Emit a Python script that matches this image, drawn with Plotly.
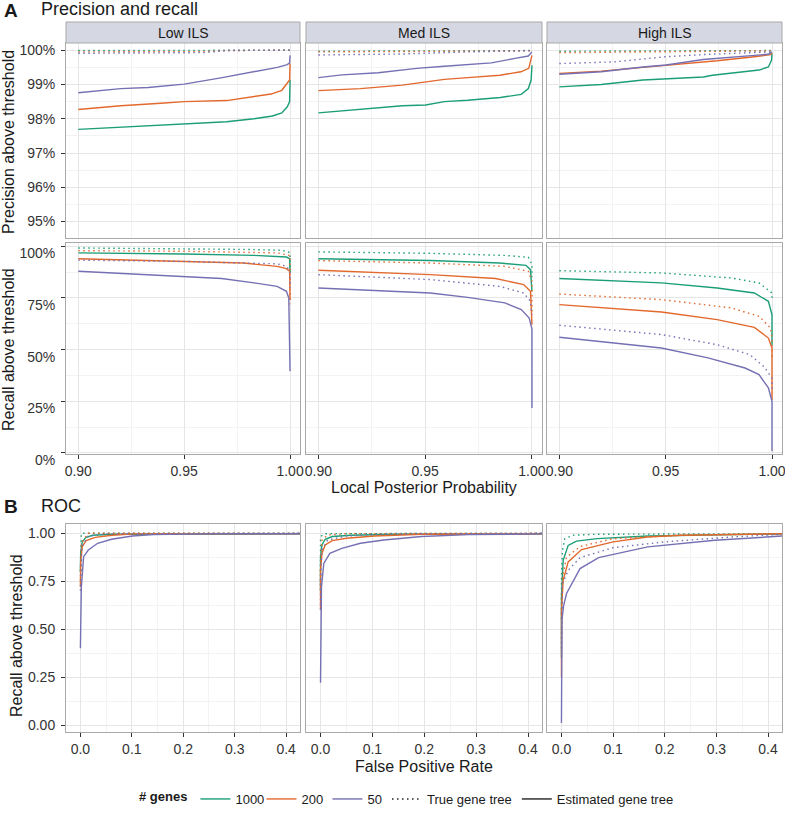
import plotly.graph_objects as go

# ---- data (x, y) ----
GENES = ["1000", "200", "50"]
ILS = ["Low ILS", "Med ILS", "High ILS"]

# precision above threshold (%) vs local posterior probability
prec_low_1000_true = [(0.900, 99.99), (0.950, 100.0), (1.0, 100.0)]
prec_low_200_true = [(0.900, 99.95), (0.960, 99.96), (0.970, 99.99), (1.0, 100.0)]
prec_low_50_true = [(0.900, 99.91), (0.960, 99.93), (0.970, 99.99), (1.0, 100.0)]
prec_low_1000_est = [(0.900, 97.69), (0.924, 97.77), (0.950, 97.84), (0.970, 97.91), (0.983, 98.00),
                     (0.9917, 98.08), (0.9961, 98.17), (0.9987, 98.35), (0.9998, 98.50), (1.0, 99.13)]
prec_low_200_est = [(0.900, 98.27), (0.920, 98.38), (0.939, 98.45), (0.950, 98.50), (0.970, 98.53),
                    (0.981, 98.62), (0.991, 98.72), (0.9961, 98.83), (0.9987, 99.03), (0.9998, 99.13),
                    (1.0, 99.61)]
prec_low_50_est = [(0.900, 98.76), (0.920, 98.88), (0.933, 98.91), (0.950, 99.01), (0.968, 99.20),
                   (0.983, 99.37), (0.994, 99.50), (0.9987, 99.58), (0.9998, 99.63), (1.0, 99.85)]

prec_med_1000_true = [(0.900, 99.97), (1.0, 99.99)]
prec_med_200_true = [(0.900, 99.95), (1.0, 99.98)]
prec_med_50_true = [(0.900, 99.86), (0.940, 99.89), (0.970, 99.95), (1.0, 99.99)]
prec_med_1000_est = [(0.900, 98.17), (0.9197, 98.27), (0.9393, 98.38), (0.9502, 98.40), (0.959, 98.50),
                     (0.9699, 98.54), (0.9852, 98.62), (0.995, 98.71), (0.9983, 98.88), (0.9996, 99.13),
                     (1.0, 99.56)]
prec_med_200_est = [(0.900, 98.82), (0.9197, 98.88), (0.9393, 98.98), (0.959, 99.15), (0.970, 99.20),
                    (0.985, 99.27), (0.9948, 99.37), (0.9985, 99.47), (1.0, 99.85)]
prec_med_50_est = [(0.900, 99.20), (0.911, 99.28), (0.928, 99.34), (0.946, 99.47), (0.959, 99.53),
                   (0.968, 99.57), (0.981, 99.63), (0.992, 99.76), (0.9983, 99.83), (1.0, 99.95)]

prec_high_1000_true = [(0.900, 99.97), (1.0, 99.99)]
prec_high_200_true = [(0.900, 99.93), (1.0, 99.98)]
prec_high_50_true = [(0.900, 99.61), (0.926, 99.66), (0.950, 99.81), (0.970, 99.88), (1.0, 99.95)]
prec_high_1000_est = [(0.900, 98.93), (0.9197, 99.00), (0.9393, 99.13), (0.9502, 99.17), (0.9677, 99.22),
                      (0.972, 99.27), (0.983, 99.35), (0.9939, 99.42), (0.9983, 99.51), (0.9998, 99.71),
                      (1.0, 99.90)]
prec_high_200_est = [(0.900, 99.32), (0.9197, 99.39), (0.9393, 99.50), (0.959, 99.61), (0.9742, 99.69),
                     (0.9917, 99.81), (0.9993, 99.87), (1.0, 99.92)]
prec_high_50_est = [(0.900, 99.30), (0.9197, 99.37), (0.9393, 99.51), (0.9502, 99.57), (0.9677, 99.73),
                    (0.983, 99.81), (0.9983, 99.88), (1.0, 99.95)]

# recall above threshold (%) vs local posterior probability
rec_low_1000_true = [(0.900, 99.2), (0.950, 98.9), (0.978, 98.5), (0.9961, 98.1), (1.0, 97.0), (1.0, 88.0)]
rec_low_200_true = [(0.900, 97.9), (0.950, 97.6), (0.994, 96.8), (1.0, 95.5), (1.0, 72.0)]
rec_low_50_true = [(0.900, 93.3), (0.950, 92.7), (0.9939, 91.5), (0.9983, 90.3), (1.0, 87.9), (1.0, 80.0)]
rec_low_1000_est = [(0.900, 96.8), (0.950, 96.3), (0.983, 95.6), (0.9983, 94.8), (0.9998, 94.0), (1.0, 87.5)]
rec_low_200_est = [(0.900, 94.0), (0.950, 92.7), (0.978, 91.9), (0.9939, 90.3), (0.9983, 89.2),
                   (0.9998, 87.9), (1.0, 74.0)]
rec_low_50_est = [(0.900, 87.9), (0.950, 85.5), (0.9677, 84.4), (0.983, 82.3), (0.9939, 80.6),
                  (0.9983, 78.2), (0.9994, 75.0), (1.0, 39.5)]

rec_med_1000_true = [(0.900, 97.3), (0.9524, 96.6), (0.9873, 95.6), (0.9983, 94.7), (1.0, 91.1), (1.0, 85.0)]
rec_med_200_true = [(0.900, 93.1), (0.9524, 91.9), (0.9873, 90.3), (0.9983, 87.9), (1.0, 83.1), (1.0, 68.5)]
rec_med_50_true = [(0.900, 86.3), (0.9524, 83.9), (0.985, 80.6), (0.9961, 77.4), (0.9993, 73.4), (1.0, 66.9)]
rec_med_1000_est = [(0.900, 94.0), (0.9524, 93.1), (0.985, 91.9), (0.9972, 90.8), (0.9993, 88.7), (1.0, 78.2)]
rec_med_200_est = [(0.900, 88.4), (0.9524, 86.3), (0.983, 84.4), (0.9961, 81.5), (0.9993, 78.2), (1.0, 62.1)]
rec_med_50_est = [(0.900, 79.8), (0.9524, 77.4), (0.9699, 75.3), (0.9873, 72.6), (0.995, 69.4),
                  (0.9987, 65.3), (1.0, 60.0), (1.0, 21.8)]

rec_high_1000_true = [(0.900, 88.2), (0.948, 87.1), (0.9808, 84.7), (0.9939, 82.3), (1.0, 77.4), (1.0, 74.0)]
rec_high_200_true = [(0.900, 76.9), (0.948, 74.2), (0.9808, 70.2), (0.9939, 66.1), (0.9993, 60.5),
                     (1.0, 56.0), (1.0, 45.0)]
rec_high_50_true = [(0.900, 61.8), (0.948, 57.3), (0.9742, 52.4), (0.9895, 47.6), (0.9961, 41.9),
                    (1.0, 36.3), (1.0, 30.0)]
rec_high_1000_est = [(0.900, 84.4), (0.948, 82.3), (0.9742, 79.8), (0.9917, 77.4), (0.9983, 73.4),
                     (1.0, 66.9), (1.0, 52.2)]
rec_high_200_est = [(0.900, 71.8), (0.948, 68.2), (0.9742, 64.5), (0.9917, 60.8), (0.9983, 55.6),
                    (1.0, 50.8), (1.0, 25.6)]
rec_high_50_est = [(0.900, 56.0), (0.948, 50.8), (0.9699, 46.0), (0.9873, 41.1), (0.9939, 37.9),
                   (0.9983, 31.5), (1.0, 25.0), (1.0, 0.8)]

# ROC: recall vs false positive rate
roc_low_1000_true = [(0.0, 0.80), (0.0005, 0.95), (0.002, 1.0), (0.43, 1.0)]
roc_low_200_true = [(0.0, 0.75), (0.002, 0.95), (0.015, 1.0), (0.43, 1.0)]
roc_low_50_true = [(0.0, 0.70), (0.003, 0.93), (0.015, 0.985), (0.05, 0.997), (0.43, 1.0)]
roc_low_1000_est = [(0.0, 0.80), (0.0005, 0.895), (0.0036, 0.956), (0.011, 0.979), (0.024, 0.99),
                    (0.061, 0.995), (0.43, 0.997)]
roc_low_200_est = [(0.0, 0.72), (0.0005, 0.852), (0.0036, 0.930), (0.011, 0.962), (0.029, 0.979),
                   (0.061, 0.99), (0.106, 0.997), (0.43, 0.998)]
roc_low_50_est = [(0.0, 0.40), (0.0018, 0.72), (0.0063, 0.878), (0.0154, 0.913), (0.0335, 0.948),
                  (0.0606, 0.969), (0.101, 0.986), (0.142, 0.993), (0.233, 0.997), (0.43, 0.998)]

roc_med_1000_true = [(0.0, 0.75), (0.0, 0.965), (0.0018, 0.986), (0.009, 0.998), (0.43, 1.0)]
roc_med_200_true = [(0.0, 0.70), (0.0, 0.843), (0.0027, 0.965), (0.0136, 0.991), (0.05, 0.998), (0.43, 1.0)]
roc_med_50_true = [(0.0, 0.60), (0.0, 0.756), (0.0027, 0.913), (0.0136, 0.965), (0.05, 0.986),
                   (0.122, 0.995), (0.21, 0.998), (0.43, 1.0)]
roc_med_1000_est = [(0.0, 0.70), (0.0, 0.878), (0.0027, 0.939), (0.009, 0.969), (0.0226, 0.983),
                    (0.0588, 0.99), (0.14, 0.995), (0.43, 0.997)]
roc_med_200_est = [(0.0, 0.60), (0.0, 0.808), (0.0027, 0.895), (0.009, 0.939), (0.0226, 0.962),
                   (0.05, 0.974), (0.104, 0.986), (0.195, 0.995), (0.43, 0.997)]
roc_med_50_est = [(0.0, 0.22), (0.0018, 0.72), (0.0063, 0.843), (0.018, 0.895), (0.041, 0.921),
                  (0.077, 0.948), (0.122, 0.965), (0.195, 0.983), (0.285, 0.993), (0.43, 0.997)]

roc_high_1000_true = [(0.0, 0.55), (0.0, 0.771), (0.002, 0.911), (0.0065, 0.972), (0.023, 0.99),
                      (0.069, 0.995), (0.43, 0.998)]
roc_high_200_true = [(0.0, 0.45), (0.002, 0.771), (0.0098, 0.875), (0.036, 0.931), (0.1, 0.972),
                     (0.232, 0.99), (0.43, 0.997)]
roc_high_50_true = [(0.0, 0.40), (0.002, 0.737), (0.013, 0.807), (0.036, 0.873), (0.1, 0.925),
                    (0.199, 0.955), (0.33, 0.981), (0.43, 0.995)]
roc_high_1000_est = [(0.0, 0.35), (0.0, 0.668), (0.0033, 0.859), (0.013, 0.937), (0.029, 0.959),
                     (0.069, 0.972), (0.167, 0.986), (0.297, 0.993), (0.43, 0.997)]
roc_high_200_est = [(0.0, 0.25), (0.0, 0.599), (0.0033, 0.755), (0.013, 0.851), (0.039, 0.915),
                    (0.1, 0.955), (0.166, 0.981), (0.232, 0.99), (0.43, 0.998)]
roc_high_50_est = [(0.0, 0.01), (0.001, 0.55), (0.004, 0.62), (0.0098, 0.686), (0.036, 0.816),
                   (0.072, 0.873), (0.167, 0.929), (0.297, 0.964), (0.43, 0.986)]

prec_y_ticks = [95, 96, 97, 98, 99, 100]
rec_y_ticks = [0, 25, 50, 75, 100]
pp_x_ticks = [0.90, 0.95, 1.00]
roc_x_ticks = [0.0, 0.1, 0.2, 0.3, 0.4]
roc_y_ticks = [0.0, 0.25, 0.5, 0.75, 1.0]

curves = {
    (0, 0): {"1000": (prec_low_1000_true, prec_low_1000_est), "200": (prec_low_200_true, prec_low_200_est),
             "50": (prec_low_50_true, prec_low_50_est)},
    (0, 1): {"1000": (prec_med_1000_true, prec_med_1000_est), "200": (prec_med_200_true, prec_med_200_est),
             "50": (prec_med_50_true, prec_med_50_est)},
    (0, 2): {"1000": (prec_high_1000_true, prec_high_1000_est), "200": (prec_high_200_true, prec_high_200_est),
             "50": (prec_high_50_true, prec_high_50_est)},
    (1, 0): {"1000": (rec_low_1000_true, rec_low_1000_est), "200": (rec_low_200_true, rec_low_200_est),
             "50": (rec_low_50_true, rec_low_50_est)},
    (1, 1): {"1000": (rec_med_1000_true, rec_med_1000_est), "200": (rec_med_200_true, rec_med_200_est),
             "50": (rec_med_50_true, rec_med_50_est)},
    (1, 2): {"1000": (rec_high_1000_true, rec_high_1000_est), "200": (rec_high_200_true, rec_high_200_est),
             "50": (rec_high_50_true, rec_high_50_est)},
    (2, 0): {"1000": (roc_low_1000_true, roc_low_1000_est), "200": (roc_low_200_true, roc_low_200_est),
             "50": (roc_low_50_true, roc_low_50_est)},
    (2, 1): {"1000": (roc_med_1000_true, roc_med_1000_est), "200": (roc_med_200_true, roc_med_200_est),
             "50": (roc_med_50_true, roc_med_50_est)},
    (2, 2): {"1000": (roc_high_1000_true, roc_high_1000_est), "200": (roc_high_200_true, roc_high_200_est),
             "50": (roc_high_50_true, roc_high_50_est)},
}

# ---- styling ----
W, H = 785, 813
FONT = "Liberation Sans, Arial, sans-serif"
COLORS = {"1000": "#1B9E77", "200": "#E2682C", "50": "#7570B3"}
DOT = "1.5px,3.5px"
LW = 1.4

COL_PX = [(66, 300), (306, 542), (547, 782)]
ROW_PX = [(43, 238), (243, 454), (524, 732)]


def fx(p):
    return p / W


def fy(p):
    return 1 - p / H


fig = go.Figure()

for (r, c), by_gene in curves.items():
    n = r * 3 + c + 1
    xa = "x" if n == 1 else f"x{n}"
    ya = "y" if n == 1 else f"y{n}"
    for g in GENES:
        true_pts, est_pts = by_gene[g]
        for pts, dash in ((true_pts, DOT), (est_pts, "solid")):
            fig.add_trace(go.Scatter(
                x=[p[0] for p in pts], y=[p[1] for p in pts], mode="lines",
                line=dict(color=COLORS[g], width=LW, dash=dash),
                xaxis=xa, yaxis=ya, showlegend=False, hoverinfo="skip"))

# legend entries
for g in GENES:
    fig.add_trace(go.Scatter(x=[None], y=[None], mode="lines", name=g,
                             line=dict(color=COLORS[g], width=LW), legend="legend"))
fig.add_trace(go.Scatter(x=[None], y=[None], mode="lines", name="True gene tree",
                         line=dict(color="#222", width=LW, dash=DOT), legend="legend2"))
fig.add_trace(go.Scatter(x=[None], y=[None], mode="lines", name="Estimated gene tree",
                         line=dict(color="#222", width=LW), legend="legend2"))

base = dict(showline=True, mirror=True, linecolor="#A9A9A9", linewidth=1,
            gridcolor="#E6E6E6", gridwidth=0.8, zeroline=False, automargin=False,
            tickfont=dict(family=FONT, size=14, color="#333333"),
            ticks="", ticklen=4, tickcolor="#333333", showticklabels=False)

row_y = [
    dict(range=[94.52, 100.21], tickvals=prec_y_ticks, ticktext=[f"{v}%" for v in prec_y_ticks],
         minor=dict(tickvals=[v + 0.5 for v in prec_y_ticks[:-1]], showgrid=True, gridcolor="#F3F3F3")),
    dict(range=[-0.5, 101.6], tickvals=rec_y_ticks, ticktext=[f"{v}%" for v in rec_y_ticks],
         ticklabelshift=7,
         minor=dict(tickvals=[v + 12.5 for v in rec_y_ticks[:-1]], showgrid=True, gridcolor="#F3F3F3")),
    dict(range=[-0.0365, 1.0485], tickvals=roc_y_ticks, ticktext=[f"{v:.2f}" for v in roc_y_ticks],
         minor=dict(tickvals=[v + 0.125 for v in roc_y_ticks[:-1]], showgrid=True, gridcolor="#F3F3F3")),
]
row_x = [
    dict(range=[0.8942, 1.0047], tickvals=pp_x_ticks, ticktext=[f"{v:.2f}" for v in pp_x_ticks],
         minor=dict(tickvals=[0.925, 0.975], showgrid=True, gridcolor="#F3F3F3")),
    dict(range=[0.8942, 1.0047], tickvals=pp_x_ticks, ticktext=[f"{v:.2f}" for v in pp_x_ticks],
         minor=dict(tickvals=[0.925, 0.975], showgrid=True, gridcolor="#F3F3F3")),
    dict(range=[-0.028, 0.427], tickvals=roc_x_ticks, ticktext=[f"{v:.1f}" for v in roc_x_ticks],
         minor=dict(tickvals=[0.05, 0.15, 0.25, 0.35], showgrid=True, gridcolor="#F3F3F3")),
]

axes = {}
for r in range(3):
    for c in range(3):
        n = r * 3 + c + 1
        sfx = "" if n == 1 else str(n)
        xd = dict(base, **row_x[r], domain=[fx(COL_PX[c][0]), fx(COL_PX[c][1])],
                  anchor="y" + sfx)
        yd = dict(base, **row_y[r], domain=[fy(ROW_PX[r][1]), fy(ROW_PX[r][0])],
                  anchor="x" + sfx)
        if r > 0:
            xd.update(ticks="outside", showticklabels=True, ticklabeloverflow="allow")
        if c == 0:
            yd.update(ticks="outside", showticklabels=True, ticklabelstandoff=3)
        axes["xaxis" + sfx] = xd
        axes["yaxis" + sfx] = yd

shapes = []
annotations = []
for c, name in enumerate(ILS):
    x0, x1 = COL_PX[c]
    shapes.append(dict(type="rect", xref="paper", yref="paper", x0=fx(x0), x1=fx(x1),
                       y0=fy(43), y1=fy(22), fillcolor="#D5D7E2",
                       line=dict(color="#A9A9A9", width=1), layer="above"))
    annotations.append(dict(text=name, xref="paper", yref="paper", x=fx((x0 + x1) / 2), y=fy(32.5),
                            xanchor="center", yanchor="middle", showarrow=False,
                            font=dict(family=FONT, size=14, color="#1a1a1a")))


def label(text, xp, yp, size=16, angle=0, xanchor="center", bold=False):
    annotations.append(dict(text=f"<b>{text}</b>" if bold else text, xref="paper", yref="paper",
                            x=fx(xp), y=fy(yp), showarrow=False, textangle=angle,
                            xanchor=xanchor, yanchor="middle",
                            font=dict(family=FONT, size=size, color="#1a1a1a")))


label("A", 2, 10, size=19, xanchor="left", bold=True)
label("Precision and recall", 39, 9, size=18, xanchor="left")
label("B", 2, 506, size=19, xanchor="left", bold=True)
label("ROC", 39, 506, size=18, xanchor="left")
label("Precision above threshold", 9, 142, angle=-90)
label("Recall above threshold", 9, 350, angle=-90)
label("Recall above threshold", 16, 636, angle=-90)
label("Local Posterior Probability", 424, 487)
label("False Positive Rate", 424, 766)

fig.update_layout(
    width=W, height=H, margin=dict(l=0, r=0, t=0, b=0, autoexpand=False),
    paper_bgcolor="white", plot_bgcolor="white",
    font=dict(family=FONT, color="#1a1a1a"),
    shapes=shapes, annotations=annotations,
    legend=dict(orientation="h", x=fx(137), y=fy(799), xanchor="left", yanchor="middle",
                title=dict(text="<b># genes</b>", side="left", font=dict(size=13)),
                font=dict(size=13), itemwidth=30, entrywidth=21, bgcolor="rgba(0,0,0,0)"),
    legend2=dict(orientation="h", x=fx(387), y=fy(799), xanchor="left", yanchor="middle",
                 font=dict(size=13), itemwidth=30, bgcolor="rgba(0,0,0,0)"),
    **axes,
)

fig.write_html("out.html", config={"displayModeBar": False},
               post_script="document.body.style.margin='0';document.body.style.overflow='hidden';")
